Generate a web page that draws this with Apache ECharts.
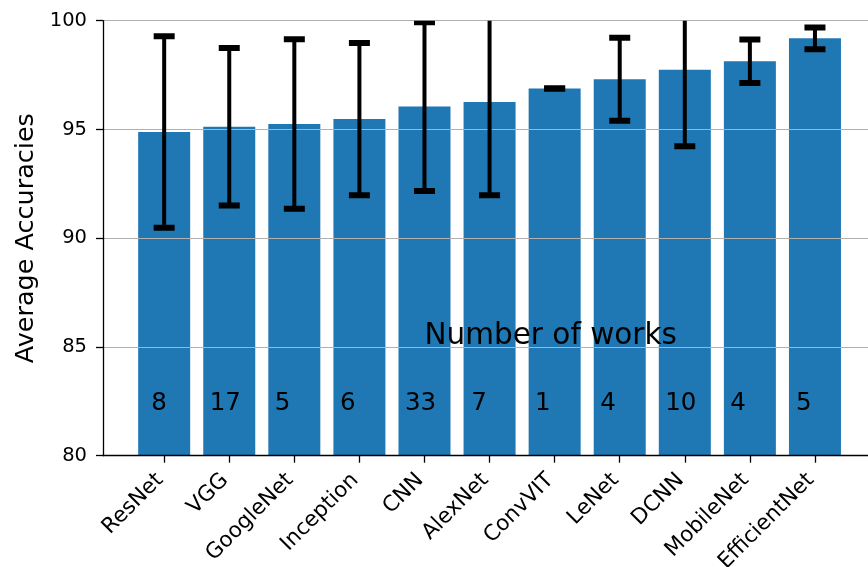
<!DOCTYPE html>
<html>
<head>
<meta charset="utf-8">
<script src="https://cdn.jsdelivr.net/npm/echarts@6/dist/echarts.min.js"></script>
<style>
  html, body { margin: 0; padding: 0; background: #fff; }
  #chart { width: 868px; height: 567px; }
</style>
</head>
<body>
<div id="chart"></div>
<script>
// data
const models = ['ResNet', 'VGG', 'GoogleNet', 'Inception', 'CNN', 'AlexNet', 'ConvVIT', 'LeNet', 'DCNN', 'MobileNet', 'EfficientNet'];
const accuracies = [94.88, 95.12, 95.25, 95.48, 96.05, 96.26, 96.88, 97.31, 97.74, 98.13, 99.19];
const errors = [4.40, 3.62, 3.90, 3.50, 3.88, 4.29, 0, 1.91, 3.51, 1.00, 0.50];
const works = [8, 17, 5, 6, 33, 7, 1, 4, 10, 4, 5];
const yTicks = [80, 85, 90, 95, 100];

// where the annotation texts sit (data coords)
const noteText = 'Number of works';
const noteX = 4, noteY = 85;
const countY = 82;
const countShifts = [-0.2, -0.3, -0.3, -0.3, -0.3, -0.28, -0.3, -0.3, -0.3, -0.3, -0.29];

const FONT = '"DejaVu Sans", sans-serif';
const chart = echarts.init(document.getElementById('chart'));

const positions = models.map((m, i) => i);

function textAt(api, x, y, str, size) {
    const p = api.coord([x, y]);
    return {
        type: 'text',
        style: {
            text: str,
            x: p[0],
            y: p[1] - 0.346 * size,
            fill: '#000',
            font: size + 'px ' + FONT,
            textAlign: 'left',
            textVerticalAlign: 'middle'
        }
    };
}

const option = {
    animation: false,
    backgroundColor: '#fff',
    grid: { left: 103, right: 0, top: 20.7, bottom: 111.3, outerBoundsMode: 'none', containLabel: false },
    xAxis: {
        type: 'value',
        min: -0.94,
        max: 10.815,
        z: 4,
        splitLine: { show: false },
        axisLine: { onZero: false, lineStyle: { color: '#000', width: 1.3 } },
        axisTick: { show: true, customValues: positions, length: 7, lineStyle: { color: '#000', width: 1.3 } },
        axisLabel: {
            customValues: positions,
            formatter: v => models[Math.round(v)] || '',
            rotate: 45,
            margin: 17,
            padding: [0, 6, 0, 0],
            color: '#000',
            fontFamily: FONT,
            fontSize: 21.5
        }
    },
    yAxis: {
        type: 'value',
        min: 80,
        max: 100,
        interval: 5,
        z: 3,
        name: 'Average Accuracies',
        nameLocation: 'middle',
        nameGap: 64,
        nameTextStyle: { color: '#000', fontFamily: FONT, fontSize: 25.5 },
        axisLine: { show: true, onZero: false, lineStyle: { color: '#000', width: 1.3 } },
        axisTick: { show: true, length: 7, lineStyle: { color: '#000', width: 1.3 } },
        axisLabel: {
            margin: 16,
            color: '#000',
            fontFamily: FONT,
            fontSize: 19.5,
            formatter: v => yTicks.includes(v) ? String(v) : ''
        },
        splitLine: { show: true, lineStyle: { color: '#b0b0b0', width: 1.1 } }
    },
    series: [
        {
            type: 'bar',
            z: 2,
            barWidth: 52,
            itemStyle: { color: '#1f77b4' },
            data: models.map((m, i) => [i, accuracies[i]])
        },
        {
            type: 'custom',
            z: 5,
            clip: true,
            data: models.map((m, i) => [i, accuracies[i] - errors[i], accuracies[i] + errors[i]]),
            renderItem: (params, api) => {
                const x = api.value(0);
                const lo = api.coord([x, api.value(1)]);
                const hi = api.coord([x, api.value(2)]);
                const cap = 10.5;
                const style = { stroke: '#000', lineWidth: 4 };
                const capStyle = { stroke: '#000', lineWidth: 6 };
                return {
                    type: 'group',
                    children: [
                        { type: 'line', shape: { x1: lo[0], y1: lo[1], x2: hi[0], y2: hi[1] }, style: style },
                        { type: 'line', shape: { x1: lo[0] - cap, y1: lo[1], x2: lo[0] + cap, y2: lo[1] }, style: capStyle },
                        { type: 'line', shape: { x1: hi[0] - cap, y1: hi[1], x2: hi[0] + cap, y2: hi[1] }, style: capStyle }
                    ]
                };
            }
        },
        {
            type: 'custom',
            z: 6,
            silent: true,
            data: works.map((w, i) => [i + countShifts[i], countY, w]),
            renderItem: (params, api) => textAt(api, api.value(0), api.value(1), String(api.value(2)), 24.5)
        },
        {
            type: 'custom',
            z: 6,
            silent: true,
            data: [[noteX, noteY]],
            renderItem: (params, api) => textAt(api, api.value(0), api.value(1), noteText, 29.5)
        }
    ]
};

chart.setOption(option);
</script>
</body>
</html>
